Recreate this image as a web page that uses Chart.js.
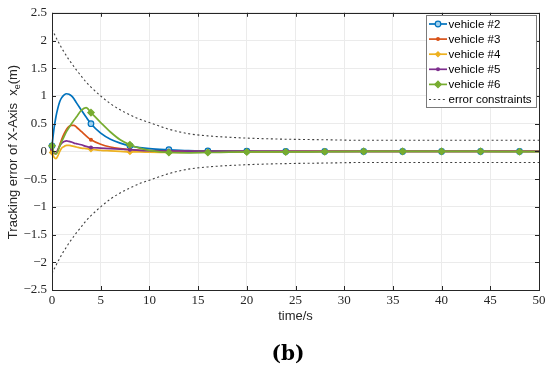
<!DOCTYPE html>
<html>
<head>
<meta charset="utf-8">
<script src="https://cdn.jsdelivr.net/npm/chart.js@4.4.0/dist/chart.umd.min.js"></script>
<style>
  html, body { margin: 0; padding: 0; background: #fff; }
  #wrap { width: 550px; height: 372px; position: relative; }
</style>
</head>
<body>
<div id="wrap"><canvas id="chart" width="550" height="372"></canvas></div>
<script>
// time samples (s)
const times = [0, 0.2, 0.4, 0.6, 0.8, 1, 1.25, 1.5, 1.75, 2, 2.25, 2.5, 3, 3.5, 4, 5, 6, 7, 8, 9, 10, 12, 14, 16, 20, 24, 28, 32, 36, 40, 44, 48, 50];

// tracking error of each vehicle
const vehicle2 = [0.1, 0.4, 0.62, 0.78, 0.9, 0.97, 1.02, 1.04, 1.03, 1.0, 0.95, 0.88, 0.75, 0.62, 0.5, 0.33, 0.22, 0.15, 0.1, 0.07, 0.05, 0.03, 0.015, 0.01, 0.005, 0, 0, 0, 0, 0, 0, 0, 0];
const vehicle3 = [0.02, -0.03, -0.04, 0.02, 0.12, 0.22, 0.32, 0.4, 0.45, 0.47, 0.47, 0.44, 0.36, 0.28, 0.21, 0.13, 0.08, 0.05, 0.03, 0.02, 0.01, 0.005, 0, 0, 0, 0, 0, 0, 0, 0, 0, 0, 0];
const vehicle4 = [-0.02, -0.1, -0.13, -0.08, 0.0, 0.06, 0.09, 0.11, 0.11, 0.1, 0.09, 0.08, 0.06, 0.05, 0.04, 0.02, 0.01, 0, -0.01, -0.01, -0.015, -0.02, -0.015, -0.01, -0.01, -0.005, 0, 0, 0, 0, 0, 0, 0];
const vehicle5 = [0.05, -0.03, -0.04, 0.03, 0.1, 0.15, 0.18, 0.19, 0.18, 0.17, 0.15, 0.14, 0.12, 0.09, 0.07, 0.06, 0.05, 0.04, 0.03, 0.02, 0.015, 0.01, 0.005, 0, 0, 0, 0, 0, 0, 0, 0, 0, 0];
const vehicle6 = [0.1, -0.02, -0.05, 0.0, 0.1, 0.18, 0.27, 0.36, 0.43, 0.5, 0.56, 0.62, 0.74, 0.79, 0.7, 0.52, 0.35, 0.21, 0.12, 0.06, 0.02, -0.02, -0.025, -0.02, -0.01, -0.01, -0.005, 0, 0, 0, 0, -0.005, -0.005];

// error constraints
const upperBound = [2.2, 2.13, 2.06, 1.99, 1.93, 1.86, 1.79, 1.72, 1.65, 1.59, 1.53, 1.47, 1.36, 1.25, 1.16, 1.0, 0.86, 0.75, 0.66, 0.58, 0.52, 0.4, 0.32, 0.28, 0.24, 0.22, 0.21, 0.2, 0.2, 0.2, 0.2, 0.2, 0.2];
const lowerBound = [-2.2, -2.13, -2.06, -1.99, -1.93, -1.86, -1.79, -1.72, -1.65, -1.59, -1.53, -1.47, -1.36, -1.25, -1.16, -1.0, -0.86, -0.75, -0.66, -0.58, -0.52, -0.4, -0.32, -0.28, -0.24, -0.22, -0.21, -0.2, -0.2, -0.2, -0.2, -0.2, -0.2];

const xTicks = [0, 5, 10, 15, 20, 25, 30, 35, 40, 45, 50];
const yTicks = [-2.5, -2, -1.5, -1, -0.5, 0, 0.5, 1, 1.5, 2, 2.5];

const legendLabels = ['vehicle #2', 'vehicle #3', 'vehicle #4', 'vehicle #5', 'vehicle #6', 'error constraints'];

const SERIF = '"Liberation Serif", "DejaVu Serif", serif';
const SANS = '"Liberation Sans", Arial, sans-serif';

function toPoints(vals) {
    return times.map((t, i) => ({ x: t, y: vals[i] }));
}

// markers only every 4 s, like the MATLAB MarkerIndices
function markerRadius(r) {
    return ctx => {
        const t = times[ctx.dataIndex];
        return (t % 4 === 0 && t <= 48) ? r : 0;
    };
}

function vehicleSet(label, vals, color, style, r, fill) {
    return {
        label: label,
        data: toPoints(vals),
        borderColor: color,
        backgroundColor: fill,
        pointBorderColor: color,
        pointBackgroundColor: fill,
        pointStyle: style,
        pointRadius: markerRadius(r),
        pointBorderWidth: 1.2,
        borderWidth: 1.7,
        cubicInterpolationMode: 'monotone',
        clip: 6,
        legendStyle: style,
        legendR: r
    };
}

function boundSet(label, vals) {
    return {
        label: label,
        data: toPoints(vals),
        borderColor: '#404040',
        borderWidth: 1.1,
        borderDash: [2, 2.6],
        pointRadius: 0,
        cubicInterpolationMode: 'monotone',
        fill: false
    };
}

const datasets = [
    boundSet('error constraints', upperBound),
    boundSet('lower', lowerBound),
    vehicleSet('vehicle #6', vehicle6, '#77AC30', 'rectRot', 3.2, '#77AC30'),
    vehicleSet('vehicle #5', vehicle5, '#7E2F8E', 'circle', 1.4, '#7E2F8E'),
    vehicleSet('vehicle #4', vehicle4, '#EDB120', 'rectRot', 2.4, '#EDB120'),
    vehicleSet('vehicle #3', vehicle3, '#D95319', 'circle', 1.4, '#D95319'),
    vehicleSet('vehicle #2', vehicle2, '#0072BD', 'circle', 2.8, '#9fd0ee')
];

// frame, axis titles, caption and in-plot legend
const decorPlugin = {
    id: 'decor',
    afterDraw(chart) {
        const c = chart.ctx;
        const a = chart.chartArea;
        c.save();
        c.strokeStyle = '#262626';
        c.lineWidth = 1;
        c.strokeRect(Math.round(a.left) + 0.5, Math.round(a.top) + 0.5, Math.round(a.right - a.left), Math.round(a.bottom - a.top));

        // inner tick marks
        const xs = chart.scales.x, ys = chart.scales.y;
        c.beginPath();
        xTicks.forEach(v => {
            const px = Math.round(xs.getPixelForValue(v)) + 0.5;
            c.moveTo(px, a.bottom); c.lineTo(px, a.bottom - 4);
            c.moveTo(px, a.top); c.lineTo(px, a.top + 4);
        });
        yTicks.forEach(v => {
            const py = Math.round(ys.getPixelForValue(v)) + 0.5;
            c.moveTo(a.left, py); c.lineTo(a.left + 4, py);
            c.moveTo(a.right, py); c.lineTo(a.right - 4, py);
        });
        c.stroke();

        // x title
        c.fillStyle = '#262626';
        c.font = '13px ' + SANS;
        c.textAlign = 'center';
        c.textBaseline = 'middle';
        c.fillText('time/s', (a.left + a.right) / 2, 316);

        // caption
        c.font = 'bold 20px "DejaVu Serif", serif';
        c.fillStyle = '#000';
        c.fillText('(b)', 288, 355);

        // y title with subscript
        c.save();
        c.translate(13, 152);
        c.rotate(-Math.PI / 2);
        c.fillStyle = '#262626';
        const p1 = 'Tracking error of X-Axis  x', p3 = '(m)';
        c.font = '13px ' + SANS;
        const w1 = c.measureText(p1).width;
        const w3 = c.measureText(p3).width;
        c.font = '9px ' + SANS;
        const w2 = c.measureText('e').width;
        let x0 = -(w1 + w2 + w3) / 2;
        c.textAlign = 'left';
        c.font = '13px ' + SANS;
        c.fillText(p1, x0, 0);
        c.font = '9px ' + SANS;
        c.fillText('e', x0 + w1, 5);
        c.font = '13px ' + SANS;
        c.fillText(p3, x0 + w1 + w2, 0);
        c.restore();

        // legend
        const bx = 426.5, by = 15.5, bw = 110, bh = 92;
        c.fillStyle = '#fff';
        c.fillRect(bx, by, bw, bh);
        c.strokeStyle = '#7a7a7a';
        c.lineWidth = 1;
        c.strokeRect(bx, by, bw, bh);
        c.font = '11.5px ' + SANS;
        c.textAlign = 'left';
        c.textBaseline = 'middle';
        legendLabels.forEach((lab, i) => {
            const ds = chart.data.datasets.find(d => d.label === lab);
            const yy = 24 + i * 15.1;
            c.save();
            c.strokeStyle = ds.borderColor;
            c.lineWidth = ds.borderWidth;
            c.setLineDash(ds.borderDash || []);
            c.beginPath();
            c.moveTo(429, yy); c.lineTo(447, yy);
            c.stroke();
            c.restore();
            if (ds.legendStyle) {
                c.fillStyle = ds.pointBackgroundColor;
                c.strokeStyle = ds.pointBorderColor;
                c.lineWidth = 1.2;
                Chart.helpers.drawPoint(c, { pointStyle: ds.legendStyle, radius: ds.legendR, borderWidth: 1.2 }, 438, yy);
            }
            c.fillStyle = '#000';
            c.fillText(lab, 448.5, yy + 0.5);
        });
        c.restore();
    }
};

new Chart(document.getElementById('chart'), {
    type: 'line',
    data: { datasets: datasets },
    options: {
        responsive: false,
        animation: false,
        events: [],
        layout: { padding: { left: 0, right: 11, top: 10, bottom: 0 } },
        plugins: {
            legend: { display: false },
            tooltip: { enabled: false }
        },
        scales: {
            x: {
                type: 'linear',
                min: 0,
                max: 50,
                afterBuildTicks: s => { s.ticks = xTicks.map(v => ({ value: v })); },
                afterFit: s => { s.height = 82; },
                grid: { color: '#ebebeb', drawTicks: false },
                border: { display: false },
                ticks: {
                    color: '#262626',
                    font: { family: SERIF, size: 13 },
                    padding: 3,
                    maxRotation: 0
                }
            },
            y: {
                type: 'linear',
                min: -2.5,
                max: 2.5,
                afterBuildTicks: s => { s.ticks = yTicks.map(v => ({ value: v })); },
                afterFit: s => { s.width = 52; },
                grid: { color: '#ebebeb', drawTicks: false },
                border: { display: false },
                ticks: {
                    color: '#262626',
                    font: { family: SERIF, size: 13 },
                    padding: 5,
                    callback: v => (v < 0 ? '\u2212' + Math.abs(v) : String(v))
                }
            }
        }
    },
    plugins: [decorPlugin]
});
</script>
</body>
</html>
